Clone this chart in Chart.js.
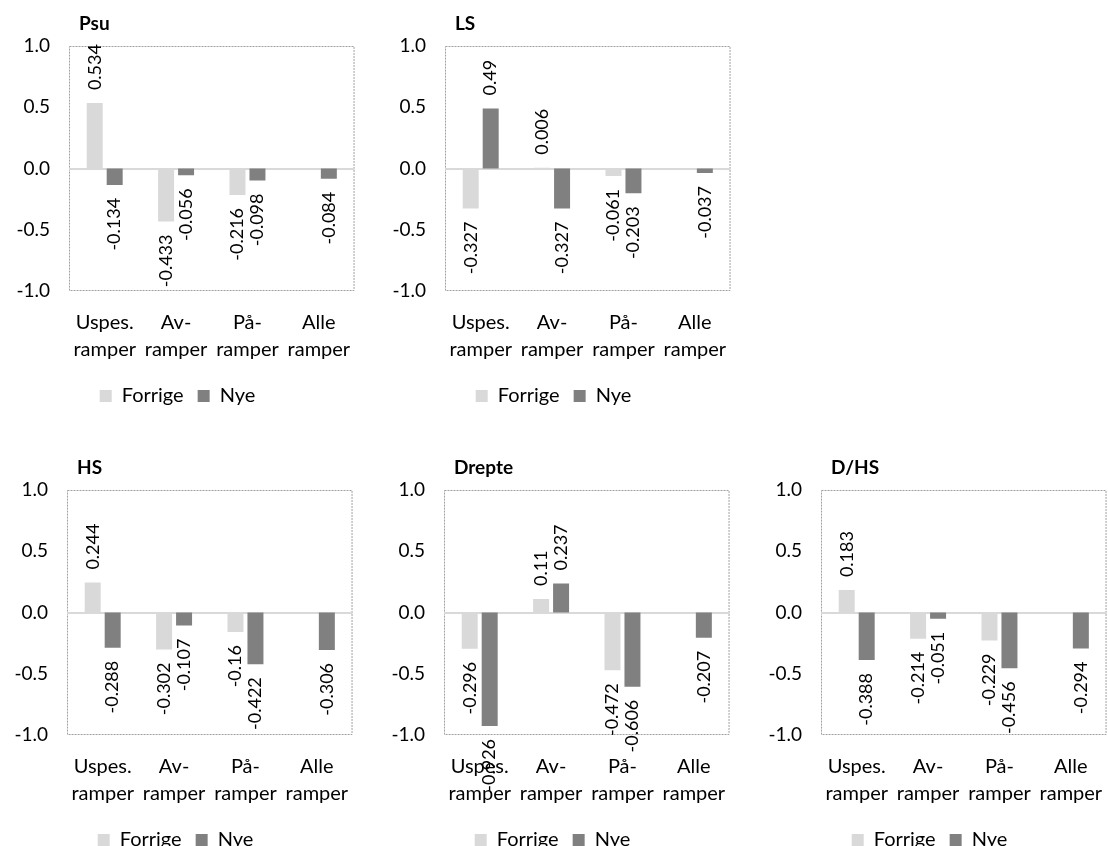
<!DOCTYPE html>
<html>
<head>
<meta charset="utf-8">
<script src="https://cdn.jsdelivr.net/npm/chart.js@4"></script>
<style>
html,body{margin:0;padding:0;background:#fff;overflow:hidden;width:1108px;height:846px;}
.c{position:absolute;}
</style>
</head>
<body>
<canvas id="c1" class="c" width="370" height="420" style="left:0px;top:0px"></canvas>
<canvas id="c2" class="c" width="370" height="420" style="left:376px;top:0px"></canvas>
<canvas id="c3" class="c" width="370" height="420" style="left:-2px;top:444px"></canvas>
<canvas id="c4" class="c" width="370" height="420" style="left:375px;top:444px"></canvas>
<canvas id="c5" class="c" width="370" height="420" style="left:752px;top:444px"></canvas>
<script>
const categories = [['Uspes.','ramper'],['Av-','ramper'],['På-','ramper'],['Alle','ramper']];
const seriesNames = ['Forrige','Nye'];
const yTicks = [-1.0,-0.5,0.0,0.5,1.0];

const psuForrige = [0.534, -0.433, -0.216, null];
const psuNye     = [-0.134, -0.056, -0.098, -0.084];
const lsForrige  = [-0.327, 0.006, -0.061, null];
const lsNye      = [0.49, -0.327, -0.203, -0.037];
const hsForrige  = [0.244, -0.302, -0.16, null];
const hsNye      = [-0.288, -0.107, -0.422, -0.306];
const drepteForrige = [-0.296, 0.11, -0.472, null];
const drepteNye     = [-0.926, 0.237, -0.606, -0.207];
const dhsForrige = [0.183, -0.214, -0.229, null];
const dhsNye     = [-0.388, -0.051, -0.456, -0.294];

const FONT = 'Lato';
const colors = ['#d9d9d9', '#808080'];

const framePlugin = {
  id: 'frame',
  beforeDatasetsDraw(chart) {
    const {ctx, chartArea: a, scales: {y}} = chart;
    ctx.save();
    ctx.strokeStyle = '#a0a0a0';
    ctx.lineWidth = 1;
    ctx.setLineDash([2, 1]);
    ctx.strokeRect(a.left + 0.5, a.top + 0.5, a.right - a.left - 1, a.bottom - a.top - 1);
    ctx.setLineDash([]);
    const y0 = Math.round(y.getPixelForValue(0));
    ctx.strokeStyle = '#d9d9d9';
    ctx.lineWidth = 2;
    ctx.beginPath();
    ctx.moveTo(a.left, y0);
    ctx.lineTo(a.right, y0);
    ctx.stroke();
    ctx.restore();
  }
};

const labelPlugin = {
  id: 'vlabels',
  afterDatasetsDraw(chart) {
    const {ctx} = chart;
    ctx.save();
    ctx.font = '18px ' + FONT;
    ctx.fillStyle = '#000';
    ctx.textBaseline = 'middle';
    chart.data.datasets.forEach((ds, di) => {
      const meta = chart.getDatasetMeta(di);
      meta.data.forEach((el, i) => {
        const v = ds.data[i];
        if (v === null || v === undefined) return;
        const txt = String(v);
        ctx.save();
        if (v >= 0) {
          ctx.translate(el.x, Math.min(el.y, el.base) - 13);
          ctx.rotate(-Math.PI / 2);
          ctx.textAlign = 'left';
        } else {
          ctx.translate(el.x, Math.max(el.y, el.base) + 13);
          ctx.rotate(-Math.PI / 2);
          ctx.textAlign = 'right';
        }
        ctx.fillText(txt, 0, 0);
        ctx.restore();
      });
    });
    ctx.restore();
  }
};

const titlePlugin = {
  id: 'ttl',
  afterDraw(chart) {
    const {ctx, chartArea: a} = chart;
    ctx.save();
    ctx.font = 'bold 19px ' + FONT;
    ctx.fillStyle = '#000';
    ctx.textBaseline = 'middle';
    ctx.textAlign = 'left';
    ctx.fillText(chart.options.plugins.ttl.text, a.left + 10, 24);
    ctx.restore();
  }
};

function makeChart(id, title, forrige, nye) {
  return new Chart(document.getElementById(id), {
    type: 'bar',
    data: {
      labels: categories,
      datasets: [
        {label: seriesNames[0], data: forrige, backgroundColor: colors[0], borderWidth: 0,
         categoryPercentage: 0.56, barPercentage: 0.8},
        {label: seriesNames[1], data: nye, backgroundColor: colors[1], borderWidth: 0,
         categoryPercentage: 0.56, barPercentage: 0.8}
      ]
    },
    options: {
      responsive: false,
      animation: false,
      devicePixelRatio: 1,
      layout: {padding: {top: 46, left: 0, right: 15, bottom: 4}},
      scales: {
        x: {
          grid: {display: false, drawTicks: false},
          border: {display: false},
          ticks: {autoSkip: false, maxRotation: 0, minRotation: 0, color: '#000',
                  padding: 18, font: {family: FONT, size: 20, lineHeight: 1.35}},
          afterFit(s) { s.height = 81; }
        },
        y: {
          min: -1, max: 1,
          grid: {display: false, drawTicks: false},
          border: {display: false},
          afterBuildTicks(s) { s.ticks = yTicks.map(v => ({value: v})); },
          ticks: {color: '#000', padding: 19, font: {family: FONT, size: 19},
                  callback: v => Number(v).toFixed(1)},
          afterFit(s) { s.width = 69; }
        }
      },
      plugins: {
        legend: {
          position: 'bottom',
          labels: {boxWidth: 12, boxHeight: 12, padding: 14, color: '#000',
                   font: {family: FONT, size: 20}}
        },
        tooltip: {enabled: false},
        ttl: {text: title}
      }
    },
    plugins: [framePlugin, labelPlugin, titlePlugin]
  });
}

makeChart('c1', 'Psu', psuForrige, psuNye);
makeChart('c2', 'LS', lsForrige, lsNye);
makeChart('c3', 'HS', hsForrige, hsNye);
makeChart('c4', 'Drepte', drepteForrige, drepteNye);
makeChart('c5', 'D/HS', dhsForrige, dhsNye);
</script>
</body>
</html>
